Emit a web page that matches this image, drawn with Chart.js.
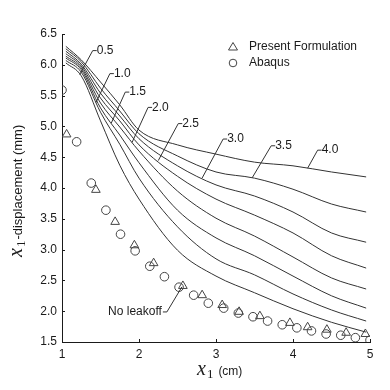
<!DOCTYPE html>
<html>
<head>
<meta charset="utf-8">
<script src="https://cdn.jsdelivr.net/npm/chart.js@4.4.0/dist/chart.umd.min.js"></script>
<style>
  html, body { margin: 0; padding: 0; background: #fff; }
  #wrap { width: 390px; height: 390px; }
</style>
</head>
<body>
<div id="wrap"><canvas id="chart"></canvas></div>
<script>
// x1 positions (cm) where the leakoff curves were read
const xSamples = [1.05, 1.25, 1.5, 1.75, 2.0, 2.5, 3.0, 3.5, 4.0, 4.5, 4.95];

const leakoffLabels = ['4.0', '3.5', '3.0', '2.5', '2.0', '1.5', '1.0', '0.5'];
const curve40 = [6.30, 6.08, 5.72, 5.35, 4.94, 4.70, 4.55, 4.42, 4.36, 4.26, 4.18];
const curve35 = [6.26, 6.05, 5.62, 5.25, 4.88, 4.52, 4.26, 4.16, 3.98, 3.74, 3.61];
const curve30 = [6.22, 6.01, 5.54, 5.17, 4.80, 4.36, 4.05, 3.87, 3.61, 3.27, 3.12];
const curve25 = [6.18, 5.98, 5.46, 5.09, 4.70, 4.19, 3.82, 3.56, 3.27, 2.90, 2.70];
const curve20 = [6.14, 5.95, 5.38, 4.99, 4.60, 3.95, 3.51, 3.22, 2.88, 2.54, 2.36];
const curve15 = [6.11, 5.92, 5.30, 4.86, 4.41, 3.64, 3.19, 2.90, 2.57, 2.25, 2.05];
const curve10 = [6.07, 5.88, 5.23, 4.71, 4.16, 3.37, 2.85, 2.59, 2.28, 2.02, 1.84];
const curve05 = [6.03, 5.82, 5.09, 4.37, 3.82, 2.99, 2.57, 2.30, 2.04, 1.82, 1.66];
const leakoffCurves = [curve40, curve35, curve30, curve25, curve20, curve15, curve10, curve05];
// x1 (cm) where each label's leader meets its curve
const labelAnchorX = [4.19, 3.47, 2.82, 2.25, 1.91, 1.64, 1.44, 1.23];

// no leakoff case
const presentX = [1.06, 1.44, 1.69, 1.94, 2.19, 2.57, 2.82, 3.08, 3.30, 3.57, 3.96, 4.19, 4.44, 4.69, 4.94];
const presentY = [4.87, 3.97, 3.45, 3.07, 2.78, 2.41, 2.26, 2.10, 1.99, 1.92, 1.81, 1.74, 1.70, 1.65, 1.63];
const abaqusX = [1.00, 1.19, 1.38, 1.57, 1.76, 1.95, 2.14, 2.33, 2.52, 2.71, 2.90,
                 3.10, 3.29, 3.48, 3.67, 3.86, 4.05, 4.24, 4.43, 4.62, 4.81, 5.00];
const abaqusY = [5.59, 4.75, 4.08, 3.64, 3.25, 2.98, 2.73, 2.56, 2.39, 2.26, 2.13,
                 2.05, 1.97, 1.91, 1.84, 1.78, 1.73, 1.68, 1.63, 1.61, 1.57, 1.53];
const noLeakoffIndex = 5;

const xTicks = [1, 2, 3, 4, 5];
const yTicks = [1.5, 2.0, 2.5, 3.0, 3.5, 4.0, 4.5, 5.0, 5.5, 6.0, 6.5];

const sans = '"Liberation Sans", Arial, sans-serif';
const serif = '"Liberation Serif", "Times New Roman", serif';
const lineColor = '#333';
const textColor = '#1a1a1a';
// leader offsets in px from curve point to label corner
const leaderOffsets = [[10, -18], [19, -32], [21, -39], [20, -37], [16, -35], [14, -31], [14, -29], [13, -24]];

function interp(xs, ys, x) {
    for (let i = 0; i < xs.length - 1; i++) {
        if (x >= xs[i] && x <= xs[i + 1]) {
            const t = (x - xs[i]) / (xs[i + 1] - xs[i]);
            return ys[i] + t * (ys[i + 1] - ys[i]);
        }
    }
    return ys[ys.length - 1];
}

const datasets = leakoffCurves.map((ys, i) => ({
    label: leakoffLabels[i],
    data: xSamples.map((x, j) => ({ x: x, y: ys[j] })),
    showLine: true,
    borderColor: lineColor,
    borderWidth: 1,
    pointRadius: 0,
    cubicInterpolationMode: 'monotone',
    fill: false
}));
datasets.push({
    label: 'Present Formulation',
    data: presentX.map((x, i) => ({ x: x, y: presentY[i] })),
    pointStyle: 'triangle',
    pointRadius: 5,
    borderColor: '#444',
    backgroundColor: 'rgba(0,0,0,0)',
    borderWidth: 1,
    showLine: false
});
datasets.push({
    label: 'Abaqus',
    data: abaqusX.map((x, i) => ({ x: x, y: abaqusY[i] })),
    pointStyle: 'circle',
    pointRadius: 4.3,
    borderColor: '#444',
    backgroundColor: 'rgba(0,0,0,0)',
    borderWidth: 1,
    showLine: false
});

const decorations = {
    id: 'decorations',
    afterDatasetsDraw(chart) {
        const { ctx, chartArea, scales: { x, y } } = chart;
        ctx.save();

        // inward tick marks
        ctx.strokeStyle = textColor;
        ctx.lineWidth = 1;
        ctx.beginPath();
        xTicks.forEach(v => {
            const px = Math.round(x.getPixelForValue(v)) + 0.5;
            ctx.moveTo(px, chartArea.bottom);
            ctx.lineTo(px, chartArea.bottom - 3);
        });
        yTicks.forEach(v => {
            const py = Math.round(y.getPixelForValue(v)) + 0.5;
            ctx.moveTo(chartArea.left, py);
            ctx.lineTo(chartArea.left + 3, py);
        });
        ctx.stroke();

        // curve labels with leaders
        ctx.strokeStyle = lineColor;
        ctx.fillStyle = textColor;
        ctx.font = '12px ' + sans;
        ctx.textBaseline = 'middle';
        ctx.textAlign = 'left';
        leakoffLabels.forEach((txt, i) => {
            const ax = labelAnchorX[i];
            const px = x.getPixelForValue(ax);
            const py = y.getPixelForValue(interp(xSamples, leakoffCurves[i], ax));
            const [dx, dy] = leaderOffsets[i];
            ctx.beginPath();
            ctx.moveTo(px, py);
            ctx.lineTo(px + dx, py + dy);
            ctx.lineTo(px + dx + 4, py + dy);
            ctx.stroke();
            ctx.fillText(txt, px + dx + 4, py + dy);
        });

        // no leakoff label
        const nx = x.getPixelForValue(presentX[noLeakoffIndex]);
        const ny = y.getPixelForValue(presentY[noLeakoffIndex]);
        ctx.beginPath();
        ctx.moveTo(nx - 1, ny + 1);
        ctx.lineTo(nx - 16, ny + 26);
        ctx.lineTo(nx - 20, ny + 26);
        ctx.stroke();
        ctx.textAlign = 'right';
        ctx.fillText('No leakoff', nx - 21, ny + 26);

        // legend
        ctx.textAlign = 'left';
        ctx.strokeStyle = '#444';
        const lx = 233, ly = 47;
        ctx.beginPath();
        ctx.moveTo(lx, ly - 4.5);
        ctx.lineTo(lx + 4.5, ly + 3);
        ctx.lineTo(lx - 4.5, ly + 3);
        ctx.closePath();
        ctx.stroke();
        ctx.beginPath();
        ctx.arc(lx, ly + 16, 3.8, 0, Math.PI * 2);
        ctx.stroke();
        ctx.fillText('Present Formulation', lx + 16, ly);
        ctx.fillText('Abaqus', lx + 16, ly + 16);

        // x axis title
        ctx.textBaseline = 'alphabetic';
        const cx = (chartArea.left + chartArea.right) / 2 - 19;
        const by = chartArea.bottom + 33;
        ctx.font = 'italic 20px ' + serif;
        ctx.fillText('x', cx, by);
        let w = ctx.measureText('x').width;
        ctx.font = '13px ' + serif;
        ctx.fillText('1', cx + w + 1, by + 3);
        w += ctx.measureText('1').width + 1;
        ctx.font = '12px ' + sans;
        ctx.fillText('(cm)', cx + w + 5, by);

        // y axis title
        ctx.translate(22, 257);
        ctx.rotate(-Math.PI / 2);
        ctx.font = 'italic 20px ' + serif;
        ctx.fillText('x', 0, 0);
        w = ctx.measureText('x').width;
        ctx.font = '13px ' + serif;
        ctx.fillText('1', w + 1, 3);
        w += ctx.measureText('1').width + 1;
        ctx.font = '13px ' + sans;
        ctx.fillText('-displacement (mm)', w + 1, 0);

        ctx.restore();
    }
};

new Chart(document.getElementById('chart'), {
    type: 'scatter',
    data: { datasets: datasets },
    options: {
        responsive: true,
        maintainAspectRatio: false,
        animation: false,
        layout: { padding: { top: 34, right: 20, left: 0, bottom: 0 } },
        plugins: { legend: { display: false }, tooltip: { enabled: false } },
        scales: {
            x: {
                type: 'linear',
                min: 1, max: 5,
                afterBuildTicks: s => { s.ticks = xTicks.map(v => ({ value: v })); },
                afterFit: s => { s.height = 48; },
                grid: { display: false, drawTicks: false, tickLength: 0 },
                border: { display: true, color: textColor, width: 1 },
                ticks: { color: textColor, font: { family: sans, size: 12 }, padding: 5, maxRotation: 0,
                         callback: v => String(v) }
            },
            y: {
                type: 'linear',
                min: 1.5, max: 6.5,
                afterBuildTicks: s => { s.ticks = yTicks.map(v => ({ value: v })); },
                afterFit: s => { s.width = 62; },
                grid: { display: false, drawTicks: false, tickLength: 0 },
                border: { display: true, color: textColor, width: 1 },
                ticks: { color: textColor, font: { family: sans, size: 12 }, padding: 5,
                         callback: v => v.toFixed(1) }
            }
        }
    },
    plugins: [decorations]
});
</script>
</body>
</html>
